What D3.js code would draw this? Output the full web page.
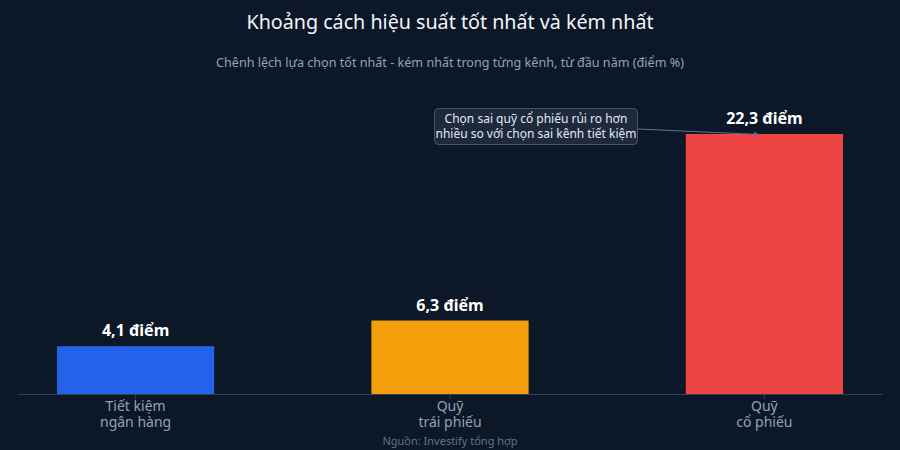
<!DOCTYPE html>
<html><head><meta charset="utf-8">
<script src="https://cdn.jsdelivr.net/npm/d3@7"></script>
<style>html,body{margin:0;padding:0;background:#0c1727;}svg{display:block;font-family:"Noto Sans",sans-serif;}</style>
</head><body>
<svg id="c" width="900" height="450"></svg>
<script>
const categories = [["Tiết kiệm","ngân hàng"],["Quỹ","trái phiếu"],["Quỹ","cổ phiếu"]];
const values = [4.1, 6.3, 22.3];
const valueLabels = ["4,1 điểm","6,3 điểm","22,3 điểm"];
const colors = ["#2563eb","#f59e0b","#ef4444"];
const titleText = "Khoảng cách hiệu suất tốt nhất và kém nhất";
const subtitleText = "Chênh lệch lựa chọn tốt nhất - kém nhất trong từng kênh, từ đầu năm (điểm %)";
const sourceText = "Nguồn: Investify tổng hợp";
const noteLines = ["Chọn sai quỹ cổ phiếu rủi ro hơn","nhiều so với chọn sai kênh tiết kiệm"];

const svg = d3.select("#c");
svg.append("rect").attr("width",900).attr("height",450).attr("fill","#0c1727");

const x = d3.scaleBand().domain(d3.range(values.length)).range([57,843]).paddingInner(0.5).paddingOuter(0);
const y = d3.scaleLinear().domain([0,25]).range([394,102.5]);

svg.append("text").attr("x",450).attr("y",29).attr("text-anchor","middle")
  .attr("fill","#f1f5f9").attr("font-size",19.7).text(titleText);
svg.append("text").attr("x",450).attr("y",67).attr("text-anchor","middle")
  .attr("fill","#94a3b8").attr("font-size",12.6).text(subtitleText);

// axis line
svg.append("line").attr("x1",18).attr("x2",883).attr("y1",394.5).attr("y2",394.5)
  .attr("stroke","#334155").attr("stroke-width",1);

svg.selectAll("rect.bar").data(values).join("rect").attr("class","bar")
  .attr("x",(d,i)=>x(i)).attr("width",x.bandwidth())
  .attr("y",d=>y(d)).attr("height",d=>y(0)-y(d))
  .attr("fill",(d,i)=>colors[i]);

svg.selectAll("text.val").data(values).join("text").attr("class","val")
  .attr("x",(d,i)=>x(i)+x.bandwidth()/2).attr("y",d=>y(d)-10)
  .attr("text-anchor","middle").attr("fill","#ffffff").attr("font-weight","bold").attr("font-size",16)
  .text((d,i)=>valueLabels[i]);

// ticks
svg.selectAll("line.tick").data(values).join("line").attr("class","tick")
  .attr("x1",(d,i)=>x(i)+x.bandwidth()/2).attr("x2",(d,i)=>x(i)+x.bandwidth()/2)
  .attr("y1",395).attr("y2",399).attr("stroke","#334155");

categories.forEach((d,i)=>{
  d.forEach((ln,j)=>svg.append("text").attr("class","cat")
    .attr("x",x(i)+x.bandwidth()/2).attr("y",411+j*16)
    .attr("text-anchor","middle").attr("fill","#94a3b8").attr("font-size",14).text(ln));
});

svg.append("text").attr("x",450).attr("y",445).attr("text-anchor","middle")
  .attr("fill","#64748b").attr("font-size",11).text(sourceText);

// annotation
const defs = svg.append("defs");
defs.append("marker").attr("id","arr").attr("viewBox","0 0 10 10").attr("refX",9).attr("refY",5)
  .attr("markerWidth",5).attr("markerHeight",5).attr("orient","auto")
  .append("path").attr("d","M0,0L10,5L0,10z").attr("fill","#64748b");
const tx = x(2)+x.bandwidth()/2;
svg.append("line").attr("x1",638).attr("y1",129).attr("x2",tx-6).attr("y2",y(values[2])+0.5)
  .attr("stroke","#64748b").attr("stroke-width",1).attr("marker-end","url(#arr)");
svg.append("rect").attr("x",434.5).attr("y",108.5).attr("width",203).attr("height",36).attr("rx",4)
  .attr("fill","#1e293b").attr("stroke","#475569");
noteLines.forEach((ln,j)=>svg.append("text").attr("x",536).attr("y",123+j*15).attr("text-anchor","middle")
  .attr("fill","#e2e8f0").attr("font-size",12).text(ln));
</script>
</body></html>
